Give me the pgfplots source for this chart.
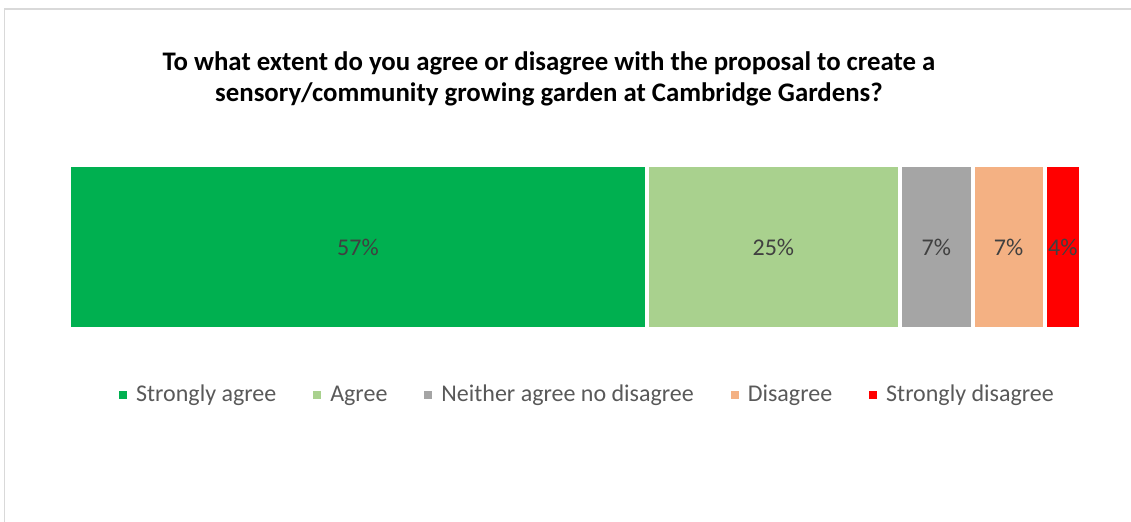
\documentclass[border=0pt]{standalone}
\usepackage{pgfplots}
\pgfplotsset{compat=1.18}
\usepackage{fontspec}
\setmainfont{Carlito}
\definecolor{sagree}{HTML}{00B050}
\definecolor{agree}{HTML}{A9D18E}
\definecolor{neither}{HTML}{A5A5A5}
\definecolor{disagree}{HTML}{F4B183}
\definecolor{sdisagree}{HTML}{FF0000}
\definecolor{lbl}{HTML}{404040}
\definecolor{legtxt}{HTML}{595959}
\definecolor{frame}{HTML}{D9D9D9}
\begin{document}
\begin{tikzpicture}
\path[use as bounding box] (0,0) rectangle (565.5pt,-261pt);
\draw[frame, line width=0.8pt] (2.3pt,-261pt) -- (2.3pt,-4.6pt) -- (565.5pt,-4.6pt);
\node[align=center, font=\fontsize{13.4}{15.5}\selectfont\bfseries, text=black] at (274.5pt,-39.5pt)
  {To what extent do you agree or disagree with the proposal to create a\\sensory/community growing garden at Cambridge Gardens?};
\begin{axis}[
  at={(34.5pt,-82.5pt)}, anchor=north west,
  scale only axis, width=506pt, height=82pt,
  xbar stacked, bar width=82pt,
  xmin=0, xmax=100, ymin=-0.5, ymax=0.5,
  hide axis,
  point meta=explicit symbolic,
  nodes near coords={\pgfplotspointmeta\%},
  every node near coord/.append style={anchor=center, font=\fontsize{12}{14}\selectfont, text=lbl},
  legend columns=5,
  legend style={at={(0.5,0)}, anchor=center, xshift=6.5pt, yshift=-33pt, draw=none,
    font=\fontsize{12}{14}\selectfont, text=legtxt, nodes={inner sep=1.5pt},
    /tikz/every even column/.append style={column sep=17pt},
    /tikz/every odd column/.append style={column sep=3pt}},
  legend image code/.code={\fill[#1,draw=none] (0pt,-2pt) rectangle (4pt,2pt);},
]
\addplot[fill=sagree, draw=white, line width=2pt] coordinates {(57.1,0) [57]};
\addplot[fill=agree, draw=white, line width=2pt] coordinates {(25.0,0) [25]};
\addplot[fill=neither, draw=white, line width=2pt] coordinates {(7.2,0) [7]};
\addplot[fill=disagree, draw=white, line width=2pt] coordinates {(7.1,0) [7]};
\addplot[fill=sdisagree, draw=white, line width=2pt] coordinates {(3.6,0) [4]};
\legend{Strongly agree, Agree, Neither agree no disagree, Disagree, Strongly disagree}
\end{axis}
\end{tikzpicture}
\end{document}
